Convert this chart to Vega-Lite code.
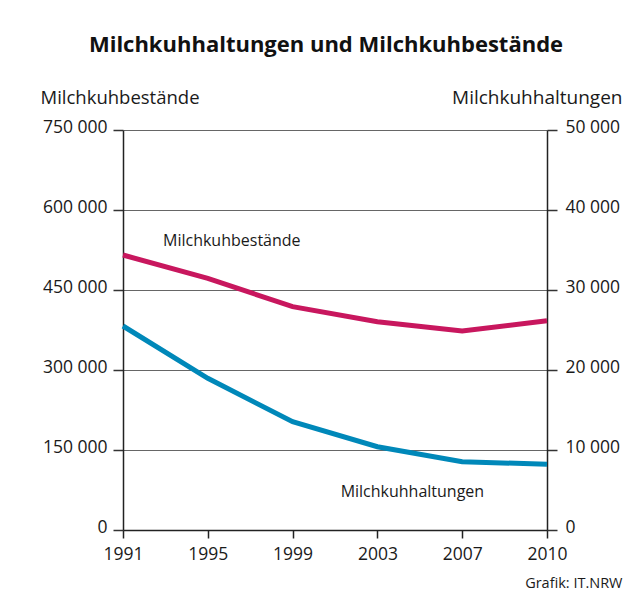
{
  "$schema": "https://vega.github.io/schema/vega-lite/v6.json",
  "autosize": "none",
  "width": 424,
  "height": 400,
  "padding": {"left": 123, "top": 130, "right": 96, "bottom": 62},
  "background": "white",
  "config": {
    "font": "Open Sans",
    "view": {"stroke": null},
    "axis": {"labelFont": "Open Sans", "titleFont": "Open Sans", "labelColor": "#1a1a1a", "titleColor": "#1a1a1a", "titleFontWeight": "normal"}
  },
  "title": {
    "text": "Milchkuhhaltungen und Milchkuhbestände",
    "font": "Open Sans",
    "fontSize": 22,
    "fontWeight": "bold",
    "color": "#111111",
    "anchor": "middle",
    "offset": 31,
    "dx": -9
  },
  "datasets": {
    "main": [
      {"year": "1991", "bestand": 515600, "haltungen": 25500},
      {"year": "1995", "bestand": 471900, "haltungen": 18960},
      {"year": "1999", "bestand": 418700, "haltungen": 13540},
      {"year": "2003", "bestand": 390600, "haltungen": 10410},
      {"year": "2007", "bestand": 373100, "haltungen": 8540},
      {"year": "2010", "bestand": 392400, "haltungen": 8210}
    ]
  },
  "encoding": {
    "x": {
      "field": "year",
      "type": "ordinal",
      "scale": {"type": "point", "padding": 0},
      "axis": {
        "title": "Grafik: IT.NRW",
        "titleFontSize": 14.5,
        "titleAlign": "right",
        "titleAnchor": "end",
        "titleX": 499,
        "titleY": 53,
        "titleBaseline": "middle",
        "labelAngle": 0,
        "labelFontSize": 17.5,
        "labelPadding": 7,
        "tickSize": 8,
        "tickColor": "#222222",
        "domainColor": "#222222",
        "domainWidth": 1.5,
        "tickWidth": 1.5,
        "grid": false
      }
    }
  },
  "layer": [
    {
      "encoding": {
        "y": {
          "field": "bestand",
          "type": "quantitative",
          "scale": {"domain": [0, 750000], "nice": false},
          "axis": {
            "orient": "left",
            "values": [0, 150000, 300000, 450000, 600000, 750000],
            "labelExpr": "replace(format(datum.value, ','), ',', ' ')",
            "labelFontSize": 17.5,
            "labelPadding": 6,
            "labelBaseline": "alphabetic",
            "labelOffset": 2,
            "tickSize": 10,
            "tickColor": "#333333",
            "tickWidth": 1.5,
            "grid": true,
            "gridColor": "#666666",
            "gridWidth": 1,
            "domainColor": "#222222",
            "domainWidth": 1.5,
            "title": "Milchkuhbestände",
            "titleFontSize": 18.5,
            "titleAngle": 0,
            "titleAlign": "left",
            "titleBaseline": "alphabetic",
            "titleX": -83,
            "titleY": -27
          }
        }
      },
      "layer": [
        {
          "data": {"name": "main"},
          "mark": {"type": "line", "color": "#c8175e", "strokeWidth": 5}
        },
        {
          "data": {"values": [{"year": "1995", "bestand": 541000, "label": "Milchkuhbestände"}]},
          "mark": {"type": "text", "fontSize": 16, "dx": 24, "color": "#1a1a1a", "baseline": "middle"},
          "encoding": {"text": {"field": "label"}}
        }
      ]
    },
    {
      "encoding": {
        "y": {
          "field": "haltungen",
          "type": "quantitative",
          "scale": {"domain": [0, 50000], "nice": false},
          "axis": {
            "orient": "right",
            "values": [0, 10000, 20000, 30000, 40000, 50000],
            "labelExpr": "replace(format(datum.value, ','), ',', ' ')",
            "labelFontSize": 17.5,
            "labelPadding": 8,
            "labelBaseline": "alphabetic",
            "labelOffset": 2,
            "tickSize": 10,
            "tickColor": "#333333",
            "tickWidth": 1.5,
            "grid": false,
            "domainColor": "#222222",
            "domainWidth": 1.5,
            "title": "Milchkuhhaltungen",
            "titleFontSize": 19,
            "titleAngle": 0,
            "titleAlign": "right",
            "titleBaseline": "alphabetic",
            "titleX": 75,
            "titleY": -27
          }
        }
      },
      "layer": [
        {
          "data": {"name": "main"},
          "mark": {"type": "line", "color": "#0088b9", "strokeWidth": 5}
        },
        {
          "data": {"values": [{"year": "2003", "haltungen": 4750, "label": "Milchkuhhaltungen"}]},
          "mark": {"type": "text", "fontSize": 16, "dx": 35, "color": "#1a1a1a", "baseline": "middle"},
          "encoding": {"text": {"field": "label"}}
        }
      ]
    }
  ],
  "resolve": {"scale": {"y": "independent"}}
}
